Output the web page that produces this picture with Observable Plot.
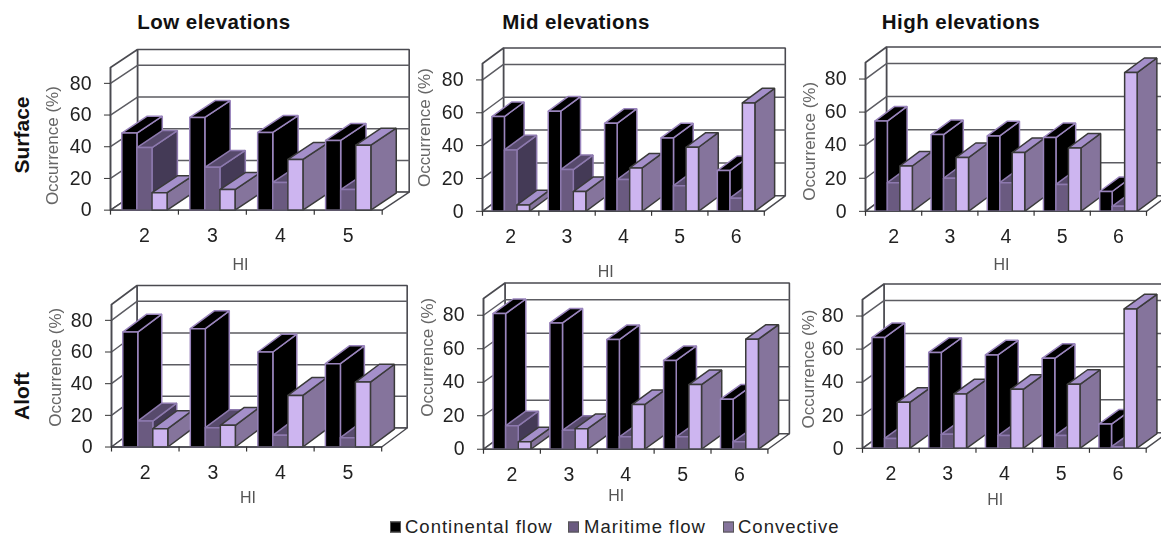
<!DOCTYPE html>
<html><head><meta charset="utf-8">
<script src="https://cdn.jsdelivr.net/npm/d3@7"></script>
<script src="https://cdn.jsdelivr.net/npm/@observablehq/plot@0.6"></script>
<style>
html,body{margin:0;padding:0;background:#fff;overflow:hidden;width:1161px;height:536px;font-family:"Liberation Sans",Arial,sans-serif}
#root{position:relative;width:1161px;height:536px;overflow:hidden}
.abs{position:absolute;white-space:nowrap}
.title{font-weight:bold;font-size:20.5px;letter-spacing:.45px;color:#111;transform:translate(-50%,-50%)}
.row{font-weight:bold;font-size:21px;color:#111;transform:translate(-50%,-50%) rotate(-90deg)}
.leg{font-size:18.5px;letter-spacing:1px;color:#222;transform:translateY(-50%)}
.sw{width:9px;height:9px;transform:translateY(-50%);border:1px solid #555}
#root svg{position:absolute;filter:blur(.45px)}
#root svg g[aria-label="ylabel"]{letter-spacing:.75px}
</style></head><body><div id="root"></div>
<script>
const categoriesLow = ["2","3","4","5"];
const categoriesWide = ["2","3","4","5","6"];
const yTicks = [0,20,40,60,80];
const seriesNames = ["Continental flow","Maritime flow","Convective"];

const surfaceLowContinental = [48.6,58.5,49,44];
const surfaceLowMaritime = [39.5,27,17.5,13];
const surfaceLowConvective = [11,13,32,41];
const surfaceMidContinental = [57.7,61,53.6,44.7,24.8];
const surfaceMidMaritime = [37.4,25.4,19.3,15.6,8];
const surfaceMidConvective = [3.9,12,26.4,39,66];
const surfaceHighContinental = [54.6,46.4,45.6,44.6,12];
const surfaceHighMaritime = [17.3,20,17.3,16.3,3];
const surfaceHighConvective = [27.4,32.5,35.5,38.3,83.9];
const aloftLowContinental = [72.6,74.7,60,52.6];
const aloftLowMaritime = [16.4,12.2,7.4,5.9];
const aloftLowConvective = [11.6,13.7,32.6,41];
const aloftMidContinental = [81,75.4,65.5,53,29.9];
const aloftMidMaritime = [14,11.3,7.4,7.4,4.4];
const aloftMidConvective = [4.4,12.3,26.7,38.6,65.7];
const aloftHighContinental = [67,58,56.5,54.4,14.7];
const aloftHighMaritime = [6,8.5,7.7,7.7,1];
const aloftHighConvective = [27.8,32.9,35.7,38.7,84.3];

// face colours: front, top, side, outline
const styles = [
  {front:"#000000",top:"#000000",side:"#000000",line:"#9a85bd"},
  {front:"#6a5a80",top:"#574a6c",side:"#443a56",line:"#8d79ae"},
  {front:"#cdb5f0",top:"#a48fca",side:"#85749c",line:"#3a3a3a"}
];

// pixel layout of each panel
const panels = [
 {cats:categoriesLow, vals:[surfaceLowContinental,surfaceLowMaritime,surfaceLowConvective], x0:110,x1:381.7,y0:209.5,y80:82.7,dx:27,dy:18,hi:[240,264],yl:[52,145]},
 {cats:categoriesWide,vals:[surfaceMidContinental,surfaceMidMaritime,surfaceMidConvective], x0:481.7,x1:763.5,y0:210.7,y80:79.3,dx:21,dy:15.5,hi:[605,271],yl:[424,127]},
 {cats:categoriesWide,vals:[surfaceHighContinental,surfaceHighMaritime,surfaceHighConvective], x0:865,x1:1146,y0:211,y80:78.7,dx:21,dy:15.5,hi:[1001,265],yl:[809,141]},
 {cats:categoriesLow, vals:[aloftLowContinental,aloftLowMaritime,aloftLowConvective], x0:110.5,x1:380.7,y0:446.7,y80:320,dx:25.5,dy:19,hi:[247,498],yl:[55,367]},
 {cats:categoriesWide,vals:[aloftMidContinental,aloftMidMaritime,aloftMidConvective], x0:483.3,x1:767.7,y0:449,y80:315,dx:21.5,dy:15.5,hi:[616,496],yl:[427,357]},
 {cats:categoriesWide,vals:[aloftHighContinental,aloftHighMaritime,aloftHighConvective], x0:862.3,x1:1146,y0:448.3,y80:316,dx:21.5,dy:15.5,hi:[995,500],yl:[808,369]}
];

const root = document.getElementById("root");

function polygon(id, pts, fill, stroke, sw){
  return [...pts, pts[0]].map(([x,y]) => ({id,x,y,fill,stroke,sw}));
}

function drawPanel(p, pi){
  const n = p.cats.length;
  const pxY = (p.y0-p.y80)/80, pxX = (p.x1-p.x0)/n;
  const dX = p.dx/pxX, dY = p.dy/pxY;         // wall depth in data units
  const wall = "#4a4a50";
  const polys = [];
  // side wall, back wall and floor
  polys.push(...polygon("wall",[[dX,dY],[n+dX,dY],[n+dX,90+dY],[dX,90+dY]],"#ffffff",wall,1.6));
  polys.push(...polygon("side",[[0,0],[dX,dY],[dX,90+dY],[0,90]],"#ffffff",wall,1.6));
  polys.push(...polygon("floor",[[0,0],[n,0],[n+dX,dY],[dX,dY]],"#ffffff",wall,1.4));
  // slanted and back grid lines
  const grid = [];
  yTicks.slice(1).forEach(v=>{
    grid.push({id:"g"+v,x:0,y:v},{id:"g"+v,x:dX,y:v+dY},{id:"g"+v,x:n+dX,y:v+dY});
  });
  // bars: three per category, with the gap split at both sides
  const bw = 2/9, off = 1/6, bdX = dX*0.94, bdY = dY*0.94;
  p.cats.forEach((c,i)=>{
    p.vals.forEach((vals,s)=>{
      const v = vals[i], st = styles[s], a = i+off+s*bw, b = a+bw, id = `b${i}-${s}`;
      polys.push(...polygon(id+"s",[[b,0],[b+bdX,bdY],[b+bdX,v+bdY],[b,v]],st.side,st.line,1.5));
      polys.push(...polygon(id+"t",[[a,v],[b,v],[b+bdX,v+bdY],[a+bdX,v+bdY]],st.top,st.line,1.5));
      polys.push(...polygon(id+"f",[[a,0],[b,0],[b,v],[a,v]],st.front,st.line,1.5));
    });
  });
  const bg = polys.filter(d=>["wall","side","floor"].includes(d.id));
  const bars = polys.filter(d=>!["wall","side","floor"].includes(d.id));
  const ml = 70, mr = 30, mt = 40, mb = 70;
  const yTop = p.y0 - pxY*90;
  const left = p.x0-ml, top = yTop-mt;
  const centers = p.cats.map((c,i)=>i+0.5);
  const borders = d3.range(n+1);
  const faces = d => Plot.line(d,{x:"x",y:"y",z:"id",fill:"fill",stroke:"stroke",strokeWidth:"sw",strokeLinejoin:"miter"});
  const svg = Plot.plot({
    width: ml+mr+(p.x1-p.x0), height: mt+mb+(p.y0-yTop),
    marginLeft: ml, marginRight: mr, marginTop: mt, marginBottom: mb,
    style:{background:"transparent",overflow:"visible",fontFamily:"'Liberation Sans',Arial,sans-serif"},
    x:{domain:[0,n],axis:null},
    y:{domain:[0,90],axis:null},
    color:{type:"identity"},
    marks:[
      faces(bg),
      Plot.line(grid,{x:"x",y:"y",z:"id",stroke:"#5c5c62",strokeWidth:1.5}),
      faces(bars),
      Plot.ruleY([0],{x1:0,x2:n,stroke:wall,strokeWidth:1.4}),
      Plot.ruleX([0],{y1:0,y2:90,stroke:wall,strokeWidth:1.5}),
      Plot.ruleX(borders,{y1:0,y2:-5/pxY,stroke:"#333",strokeWidth:1.2}),
      Plot.axisY({ticks:yTicks,tickSize:6,tickPadding:13,fontSize:19.5,label:null,stroke:"#333",fill:"#222"}),
      Plot.axisX({ticks:centers,tickSize:0,tickPadding:18,fontSize:19.5,label:null,fill:"#222",tickFormat:d=>p.cats[d-0.5]}),
      Plot.text(["HI"],{frameAnchor:"top-left",textAnchor:"middle",lineAnchor:"middle",dx:p.hi[0]-p.x0,dy:p.hi[1]-yTop,fontSize:16,fill:"#555"}),
      Plot.text(["Occurrence (%)"],{ariaLabel:"ylabel",frameAnchor:"top-left",textAnchor:"middle",lineAnchor:"middle",dx:p.yl[0]-p.x0,dy:p.yl[1]-yTop,rotate:-90,fontSize:17,fill:"#666"})
    ]
  });
  svg.style.left = left+"px";
  svg.style.top = top+"px";
  root.appendChild(svg);
}
panels.forEach(drawPanel);

function addText(cls,text,x,y){
  const d=document.createElement("div");
  d.className="abs "+cls; d.textContent=text;
  d.style.left=x+"px"; d.style.top=y+"px";
  root.appendChild(d);
}
addText("title","Low elevations",214,22);
addText("title","Mid elevations",576,22);
addText("title","High elevations",961,22);
addText("row","Surface",22,135);
addText("row","Aloft",22,396);

const legendSwatch=[390,568,723], legendText=[405,584,738], legendY=527;
seriesNames.forEach((name,i)=>{
  const s=document.createElement("div");
  s.className="abs sw"; s.style.left=legendSwatch[i]+"px"; s.style.top=legendY+"px";
  s.style.background=[styles[0].front,styles[1].front,styles[2].side][i];
  root.appendChild(s);
  addText("leg",name,legendText[i],legendY);
});
</script></body></html>
